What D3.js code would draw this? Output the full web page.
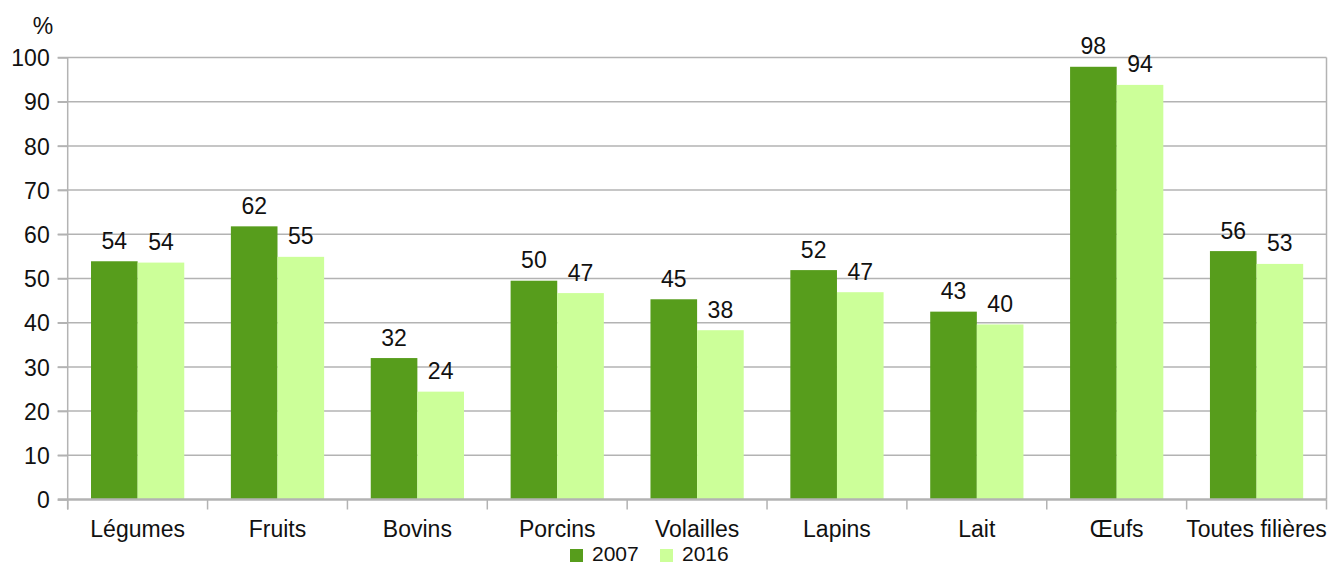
<!DOCTYPE html>
<html>
<head>
<meta charset="utf-8">
<script src="https://cdn.jsdelivr.net/npm/d3@7/dist/d3.min.js"></script>
<style>
  html, body { margin: 0; padding: 0; background: #fff; }
  svg { display: block; }
  text { font-family: "Liberation Sans", Arial, sans-serif; fill: #111; }
</style>
</head>
<body>
<svg id="chart" width="1331" height="565"></svg>
<script>
const categories = ["Légumes", "Fruits", "Bovins", "Porcins", "Volailles", "Lapins", "Lait", "Œufs", "Toutes filières"];
const seriesNames = ["2007", "2016"];
const values2007 = [53.9, 61.8, 32.0, 49.5, 45.3, 51.9, 42.5, 97.9, 56.2];
const values2016 = [53.6, 54.9, 24.4, 46.7, 38.3, 46.9, 39.6, 93.8, 53.3];
const labels2007 = ["54", "62", "32", "50", "45", "52", "43", "98", "56"];
const labels2016 = ["54", "55", "24", "47", "38", "47", "40", "94", "53"];
const yTicks = [0, 10, 20, 30, 40, 50, 60, 70, 80, 90, 100];
const colors = ["#579d1c", "#ccff99"];

(function () {
const FS = 23;
const svg = d3.select("#chart");
const pLeft = 67.7, pRight = 1326.5, pTop = 57.5, pBottom = 499.5;

const x = d3.scaleBand().domain(categories).range([pLeft, pRight]).padding(0);
const bw = x.bandwidth();
const x1 = d3.scaleBand().domain(seriesNames).range([bw / 6, bw * 5 / 6]).padding(0);
const y = d3.scaleLinear().domain([0, 100]).range([pBottom, pTop]);

// gridlines (extend left as tick marks)
svg.append("g").selectAll("line").data(yTicks.filter(t => t !== 0)).join("line")
  .attr("x1", pLeft - 10).attr("x2", pRight)
  .attr("y1", d => y(d)).attr("y2", d => y(d))
  .attr("stroke", "#b3b3b3").attr("stroke-width", 1.5);

// y axis labels
const yAxis = d3.axisLeft(y).tickValues(yTicks).tickSize(10).tickPadding(8).tickFormat(d3.format("d"));
const gy = svg.append("g").attr("transform", `translate(${pLeft},0)`).call(yAxis);
gy.select(".domain").remove();
gy.selectAll(".tick line").attr("stroke", "#b3b3b3").attr("stroke-width", 1.5);
gy.selectAll(".tick text").attr("font-size", FS).attr("fill", "#111")
  .style("font-family", "'Liberation Sans', Arial, sans-serif").attr("dy", "0.36em");

// bars
const rows = categories.map((c, i) => ({ cat: c, vals: [
  { s: seriesNames[0], v: values2007[i], l: labels2007[i] },
  { s: seriesNames[1], v: values2016[i], l: labels2016[i] }
]}));
const groups = svg.append("g").selectAll("g").data(rows).join("g")
  .attr("transform", d => `translate(${x(d.cat)},0)`);
groups.selectAll("rect").data(d => d.vals).join("rect")
  .attr("x", d => x1(d.s)).attr("width", x1.bandwidth())
  .attr("y", d => y(d.v)).attr("height", d => y(0) - y(d.v))
  .attr("fill", (d, i) => colors[i]);
groups.selectAll("text").data(d => d.vals).join("text")
  .attr("x", d => x1(d.s) + x1.bandwidth() / 2)
  .attr("y", d => y(d.v) - 12.5)
  .attr("text-anchor", "middle").attr("font-size", FS)
  .text(d => d.l);

// y axis line
svg.append("line").attr("x1", pLeft).attr("x2", pLeft).attr("y1", pTop).attr("y2", pBottom + 10)
  .attr("stroke", "#b3b3b3").attr("stroke-width", 1.5);
// x axis
const xAxis = d3.axisBottom(x).tickSize(0).tickPadding(21);
const gx = svg.append("g").attr("transform", `translate(0,${pBottom})`).call(xAxis);
gx.select(".domain").remove();
gx.selectAll(".tick text").attr("font-size", FS).attr("fill", "#111")
  .style("font-family", "'Liberation Sans', Arial, sans-serif").attr("dy", "0.71em");
// category boundary ticks
const bounds = categories.map(c => x(c)).concat([pRight]);
svg.append("g").selectAll("line").data(bounds).join("line")
  .attr("x1", d => d).attr("x2", d => d).attr("y1", pBottom).attr("y2", pBottom + 10)
  .attr("stroke", "#b3b3b3").attr("stroke-width", 1.5);
svg.append("line").attr("x1", pRight).attr("x2", pRight).attr("y1", pTop).attr("y2", pBottom)
  .attr("stroke", "#b3b3b3").attr("stroke-width", 1.5);
svg.append("line").attr("x1", pLeft - 10).attr("x2", pRight).attr("y1", pBottom).attr("y2", pBottom)
  .attr("stroke", "#b3b3b3").attr("stroke-width", 2.5);

// unit
svg.append("text").attr("x", 43).attr("y", 34).attr("text-anchor", "middle").attr("font-size", FS).text("%");

// legend
const legend = svg.append("g");
const legX = [570, 660];
seriesNames.forEach((s, i) => {
  legend.append("rect").attr("x", legX[i]).attr("y", 549).attr("width", 13).attr("height", 13).attr("fill", colors[i]);
  legend.append("text").attr("x", legX[i] + 22).attr("y", 561).attr("font-size", 21).text(s);
});
})();
</script>
</body>
</html>
